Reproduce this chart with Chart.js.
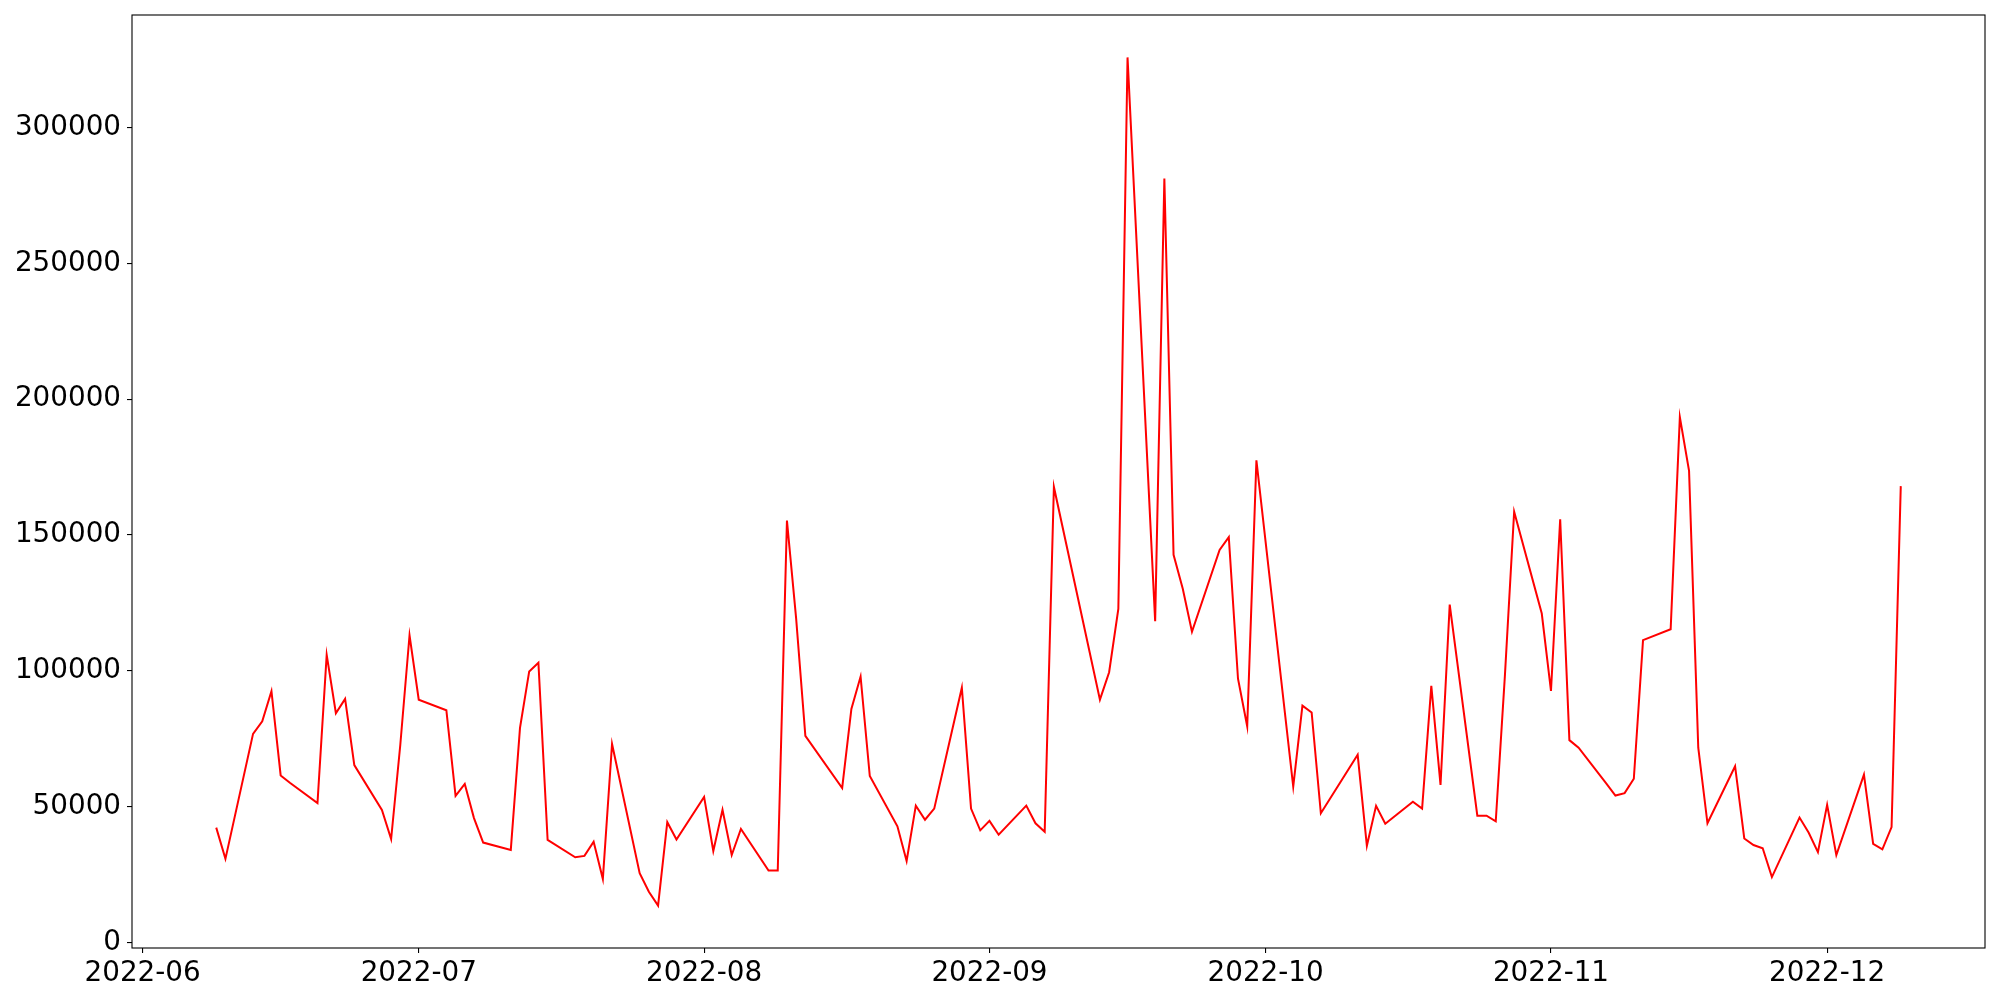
<!DOCTYPE html>
<html>
<head>
<meta charset="utf-8">
<script src="https://cdn.jsdelivr.net/npm/chart.js@4.4.0/dist/chart.umd.min.js"></script>
<style>
    html, body { margin: 0; padding: 0; background: #fff; }
    #Wrap { width: 2000px; height: 1000px; }
</style>
</head>
<body>
<div id="Wrap"><canvas id="Chart" width="2000" height="1000"></canvas></div>
<script>
let Dates = [
    '2022-06-09', '2022-06-10', '2022-06-13', '2022-06-14', '2022-06-15', '2022-06-16', '2022-06-17',
    '2022-06-20', '2022-06-21', '2022-06-22', '2022-06-23', '2022-06-24', '2022-06-27', '2022-06-28',
    '2022-06-29', '2022-06-30', '2022-07-01', '2022-07-04', '2022-07-05', '2022-07-06', '2022-07-07',
    '2022-07-08', '2022-07-11', '2022-07-12', '2022-07-13', '2022-07-14', '2022-07-15', '2022-07-18',
    '2022-07-19', '2022-07-20', '2022-07-21', '2022-07-22', '2022-07-25', '2022-07-26', '2022-07-27',
    '2022-07-28', '2022-07-29', '2022-08-01', '2022-08-02', '2022-08-03', '2022-08-04', '2022-08-05',
    '2022-08-08', '2022-08-09', '2022-08-10', '2022-08-11', '2022-08-12', '2022-08-16', '2022-08-17',
    '2022-08-18', '2022-08-19', '2022-08-22', '2022-08-23', '2022-08-24', '2022-08-25', '2022-08-26',
    '2022-08-29', '2022-08-30', '2022-08-31', '2022-09-01', '2022-09-02', '2022-09-05', '2022-09-06',
    '2022-09-07', '2022-09-08', '2022-09-13', '2022-09-14', '2022-09-15', '2022-09-16', '2022-09-19',
    '2022-09-20', '2022-09-21', '2022-09-22', '2022-09-23', '2022-09-26', '2022-09-27', '2022-09-28',
    '2022-09-29', '2022-09-30', '2022-10-04', '2022-10-05', '2022-10-06', '2022-10-07', '2022-10-11',
    '2022-10-12', '2022-10-13', '2022-10-14', '2022-10-17', '2022-10-18', '2022-10-19', '2022-10-20',
    '2022-10-21', '2022-10-24', '2022-10-25', '2022-10-26', '2022-10-27', '2022-10-28', '2022-10-31',
    '2022-11-01', '2022-11-02', '2022-11-03', '2022-11-04', '2022-11-07', '2022-11-08', '2022-11-09',
    '2022-11-10', '2022-11-11', '2022-11-14', '2022-11-15', '2022-11-16', '2022-11-17', '2022-11-18',
    '2022-11-21', '2022-11-22', '2022-11-23', '2022-11-24', '2022-11-25', '2022-11-28', '2022-11-29',
    '2022-11-30', '2022-12-01', '2022-12-02', '2022-12-05', '2022-12-06', '2022-12-07', '2022-12-08',
    '2022-12-09'
]
let Values = [
    42300, 30800, 76800, 81400, 92500, 61500, 58800,
    51300, 105900, 84400, 89700, 65300, 48800, 38100,
    72900, 113100, 89400, 85500, 54000, 58400, 45800,
    36800, 34100, 79000, 99800, 103000, 37800, 31400,
    31900, 37100, 23400, 73100, 25500, 18700, 13600,
    44300, 37900, 53600, 33700, 48900, 32200, 41800,
    26500, 26500, 155300, 119200, 76100, 56900, 86000,
    97900, 61300, 42800, 30000, 50400, 45200, 49300,
    93800, 49300, 41300, 44800, 39700, 50400, 43900,
    40800, 167700, 89400, 99500, 122800, 325800, 118300,
    281200, 142700, 130200, 114400, 144500, 149200, 97100,
    79600, 177500, 57400, 87200, 84700, 47600, 69100,
    35600, 50300, 43700, 51800, 49300, 94500, 58000,
    124400, 46700, 46700, 44600, 98500, 158600, 121100,
    92600, 155800, 74500, 71700, 58600, 54100, 55000,
    60300, 111300, 115300, 193400, 173600, 71700, 43900,
    64900, 38300, 35900, 34700, 24100, 46000, 40400,
    33300, 50700, 32200, 61800, 36300, 34300, 42500,
    168000
]
let MonthTicks = ['2022-06-01', '2022-07-01', '2022-08-01', '2022-09-01', '2022-10-01', '2022-11-01', '2022-12-01']
let ValueTicks = [0, 50000, 100000, 150000, 200000, 250000, 300000]

const DAY = 86400000
function DayNum(Text) {
    let P = Text.split('-').map(Number)
    return Date.UTC(P[0], P[1] - 1, P[2]) / DAY
}
function MonthLabel(Day) {
    let D = new Date(Math.round(Day) * DAY)
    return D.getUTCFullYear() + '-' + String(D.getUTCMonth() + 1).padStart(2, '0')
}

let Points = Dates.map((D, i) => ({ x: DayNum(D), y: Values[i] }))

// matplotlib style 5% margins
let XFirst = Points[0].x, XLast = Points[Points.length - 1].x
let XPad = (XLast - XFirst) * 0.05
let YLow = Math.min(...Values), YHigh = Math.max(...Values)
let YPad = (YHigh - YLow) * 0.05

let TickFont = { family: 'DejaVu Sans', size: 27.8 }

let FramePlugin = {
    id: 'frame',
    afterDraw(chart) {
        let A = chart.chartArea, ctx = chart.ctx
        ctx.save()
        ctx.strokeStyle = '#000'
        ctx.lineWidth = 1.1
        ctx.strokeRect(A.left, A.top, A.right - A.left, A.bottom - A.top)
        ctx.restore()
    }
}

new Chart(document.getElementById('Chart'), {
    type: 'line',
    data: {
        datasets: [{
            data: Points,
            borderColor: '#ff0000',
            borderWidth: 2,
            pointRadius: 0,
            tension: 0,
            fill: false
        }]
    },
    plugins: [FramePlugin],
    options: {
        responsive: false,
        animation: false,
        devicePixelRatio: 1,
        layout: { padding: { top: 15, right: 15, left: 0, bottom: 0 } },
        plugins: {
            legend: { display: false },
            tooltip: { enabled: false }
        },
        scales: {
            x: {
                type: 'linear',
                min: XFirst - XPad,
                max: XLast + XPad,
                afterBuildTicks: function (scale) {
                    scale.ticks = MonthTicks.map(T => ({ value: DayNum(T) }))
                },
                afterFit: function (scale) {
                    scale.height = 52
                    scale.paddingLeft = 0
                    scale.paddingRight = 0
                },
                ticks: {
                    color: '#000',
                    font: TickFont,
                    padding: 4,
                    maxRotation: 0,
                    autoSkip: false,
                    callback: function (v) { return MonthLabel(v) }
                },
                grid: { display: true, drawOnChartArea: false, drawTicks: true, tickLength: 5, color: '#000', lineWidth: 1.1 },
                border: { display: false }
            },
            y: {
                type: 'linear',
                min: YLow - YPad,
                max: YHigh + YPad,
                afterBuildTicks: function (scale) {
                    scale.ticks = ValueTicks.map(v => ({ value: v }))
                },
                afterFit: function (scale) {
                    scale.width = 132
                    scale.paddingTop = 0
                    scale.paddingBottom = 0
                },
                ticks: {
                    color: '#000',
                    font: TickFont,
                    padding: 6,
                    callback: function (v) { return String(v) }
                },
                grid: { display: true, drawOnChartArea: false, drawTicks: true, tickLength: 5, color: '#000', lineWidth: 1.1 },
                border: { display: false }
            }
        }
    }
})
</script>
</body>
</html>
